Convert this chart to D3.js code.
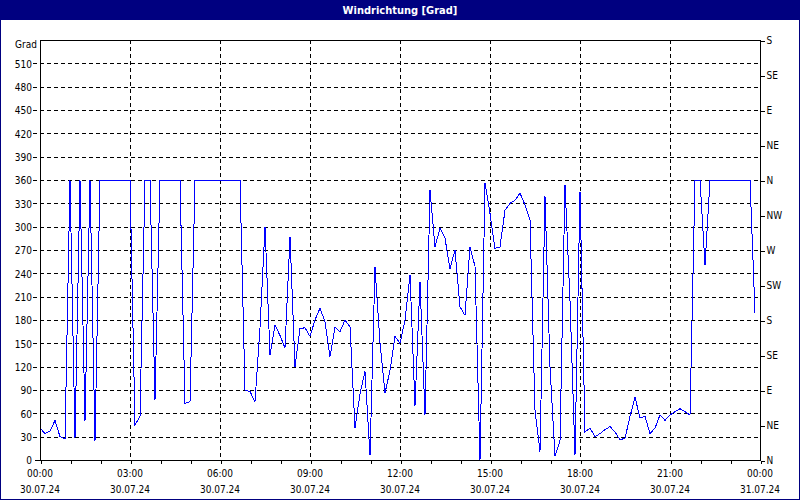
<!DOCTYPE html>
<html>
<head>
<meta charset="utf-8">
<script src="https://cdn.jsdelivr.net/npm/d3@7"></script>
<style>
  html, body { margin: 0; padding: 0; background: #fff; }
  svg { display: block; }
  text { font-family: "DejaVu Sans Condensed", "DejaVu Sans", sans-serif; font-stretch: condensed; fill: #000; }
</style>
</head>
<body>
<svg id="chart" width="800" height="500"></svg>
<script>
// ---- data (10-minute samples starting 30.07.24 00:00) ----
const startTime = new Date(2024, 6, 30, 0, 0);
const endTime = new Date(2024, 6, 31, 0, 0);
const stepMinutes = 10;
const windDirection = [
  41, 34, 37, 51, 30, 27, 360, 28, 360, 50, 360, 24,
  360, 360, 360, 360, 360, 360, 360, 45, 56, 360, 360, 77,
  360, 360, 360, 360, 360, 73, 75, 360, 360, 360, 360, 360,
  360, 360, 360, 360, 360, 90, 88, 75, 170, 300, 135, 174,
  160, 144, 287, 120, 169, 170, 159, 180, 195, 178, 133, 171,
  165, 180, 171, 41, 85, 114, 6, 248, 150, 86, 115, 159,
  150, 180, 238, 70, 229, 58, 347, 274, 298, 285, 246, 270,
  197, 186, 274, 249, 0, 356, 317, 272, 274, 321, 330, 334,
  343, 328, 309, 64, 11, 339, 120, 5, 25, 354, 205, 6,
  345, 36, 41, 30, 34, 39, 43, 36, 26, 28, 56, 81,
  54, 56, 34, 41, 58, 51, 58, 62, 66, 62, 58, 360,
  360, 251, 360, 360, 360, 360, 360, 360, 360, 360, 360, 189
];
const degreeTicks = [0, 30, 60, 90, 120, 150, 180, 210, 240, 270, 300, 330, 360, 390, 420, 450, 480, 510];
const compassTicks = [0, 45, 90, 135, 180, 225, 270, 315, 360, 405, 450, 495, 540];
const compassLabels = ["N", "NE", "E", "SE", "S", "SW", "W", "NW", "N", "NE", "E", "SE", "S"];
const titleText = "Windrichtung [Grad]";
const unitText = "Grad";

// ---- layout ----
const W = 800, H = 500;
const plot = { left: 40, right: 760, top: 40, bottom: 460 };

const svg = d3.select("#chart");
svg.append("rect").attr("x", 0).attr("y", 0).attr("width", W).attr("height", H).attr("fill", "#fff");

// title bar
svg.append("rect").attr("x", 0).attr("y", 0).attr("width", W).attr("height", 20).attr("fill", "#000080");
svg.append("text").attr("x", W / 2).attr("y", 14).attr("text-anchor", "middle")
  .style("font-size", "11px").style("font-weight", "bold").style("fill", "#fff").text(titleText);
// window border
svg.append("rect").attr("x", 0.5).attr("y", 0.5).attr("width", W - 1).attr("height", H - 1)
  .attr("fill", "none").attr("stroke", "#000080").attr("stroke-width", 1);

const x = d3.scaleTime().domain([startTime, endTime]).range([plot.left, plot.right]);
const y = d3.scaleLinear().domain([0, 540]).range([plot.bottom, plot.top]);

const data = windDirection.map((v, i) => ({ t: d3.timeMinute.offset(startTime, i * stepMinutes), v }));

// horizontal grid
const grid = svg.append("g").attr("shape-rendering", "crispEdges");
grid.selectAll("line.h").data(degreeTicks.filter(d => d > 0)).join("line")
  .attr("x1", plot.left - 7).attr("x2", plot.right)
  .attr("y1", d => Math.round(y(d)) + 0.5).attr("y2", d => Math.round(y(d)) + 0.5)
  .attr("stroke", "#000").attr("stroke-dasharray", "4,3");
grid.append("line").attr("x1", plot.left - 5).attr("x2", plot.left)
  .attr("y1", y(0) + 0.5).attr("y2", y(0) + 0.5).attr("stroke", "#000");

// vertical grid every 3 hours
const majorTimes = d3.timeHour.every(3).range(startTime, d3.timeMinute.offset(endTime, 1));
grid.selectAll("line.v").data(majorTimes.slice(1, -1)).join("line")
  .attr("x1", d => Math.round(x(d)) + 0.5).attr("x2", d => Math.round(x(d)) + 0.5)
  .attr("y1", plot.top).attr("y2", plot.bottom)
  .attr("stroke", "#000").attr("stroke-dasharray", "4,3");

// data line
const line = d3.line().x(d => x(d.t)).y(d => y(d.v));
svg.append("path").datum(data).attr("d", line)
  .attr("fill", "none").attr("stroke", "#0000ff").attr("stroke-width", 1)
  .attr("shape-rendering", "crispEdges");

// frame
const frame = svg.append("g").attr("shape-rendering", "crispEdges");
frame.append("line").attr("x1", plot.left + 0.5).attr("x2", plot.left + 0.5).attr("y1", plot.top).attr("y2", plot.bottom + 1).attr("stroke", "#000");
frame.append("line").attr("x1", plot.right + 0.5).attr("x2", plot.right + 0.5).attr("y1", plot.top).attr("y2", plot.bottom + 1).attr("stroke", "#000");
frame.append("line").attr("x1", plot.left).attr("x2", plot.right + 1).attr("y1", plot.top + 0.5).attr("y2", plot.top + 0.5).attr("stroke", "#000");
frame.append("line").attr("x1", plot.left).attr("x2", plot.right + 1).attr("y1", plot.bottom + 0.5).attr("y2", plot.bottom + 0.5).attr("stroke", "#000");

// left axis labels
const leftAxis = d3.axisLeft(y).tickValues(degreeTicks).tickSize(0).tickPadding(8);
const gl = svg.append("g").attr("transform", `translate(${plot.left},0.5)`).call(leftAxis);
gl.select(".domain").remove();
gl.selectAll("text").style("font-size", "10px").style("font-family", null).attr("fill", "#000");
svg.append("text").attr("x", 37).attr("y", 48).attr("text-anchor", "end").style("font-size", "10px").text(unitText);

// right axis (compass)
const rightAxis = d3.axisRight(y).tickValues(compassTicks).tickSize(4).tickPadding(2)
  .tickFormat((d, i) => compassLabels[i]);
const gr = svg.append("g").attr("transform", `translate(${plot.right + 0.5},0.5)`).call(rightAxis);
gr.select(".domain").remove();
gr.selectAll("line").attr("stroke", "#000").attr("shape-rendering", "crispEdges");
gr.selectAll("text").style("font-size", "10px").style("font-family", null).attr("fill", "#000");

// bottom axis: hourly ticks, labels every 3 hours
const bottomAxis = d3.axisBottom(x).ticks(d3.timeHour.every(1)).tickSize(3).tickFormat("");
const gb = svg.append("g").attr("transform", `translate(0.5,${plot.bottom + 0.5})`).call(bottomAxis);
gb.select(".domain").remove();
gb.selectAll("line").attr("stroke", "#000").attr("shape-rendering", "crispEdges");

const fmtTime = d3.timeFormat("%H:%M");
const fmtDate = d3.timeFormat("%d.%m.%y");
const lbl = svg.append("g");
lbl.selectAll("text.t").data(majorTimes).join("text")
  .attr("x", d => x(d)).attr("y", 477).attr("text-anchor", "middle")
  .style("font-size", "10px").text(d => fmtTime(d));
lbl.selectAll("text.d").data(majorTimes).join("text")
  .attr("x", d => x(d)).attr("y", 493).attr("text-anchor", "middle")
  .style("font-size", "10px").text(d => fmtDate(d));
</script>
</body>
</html>
